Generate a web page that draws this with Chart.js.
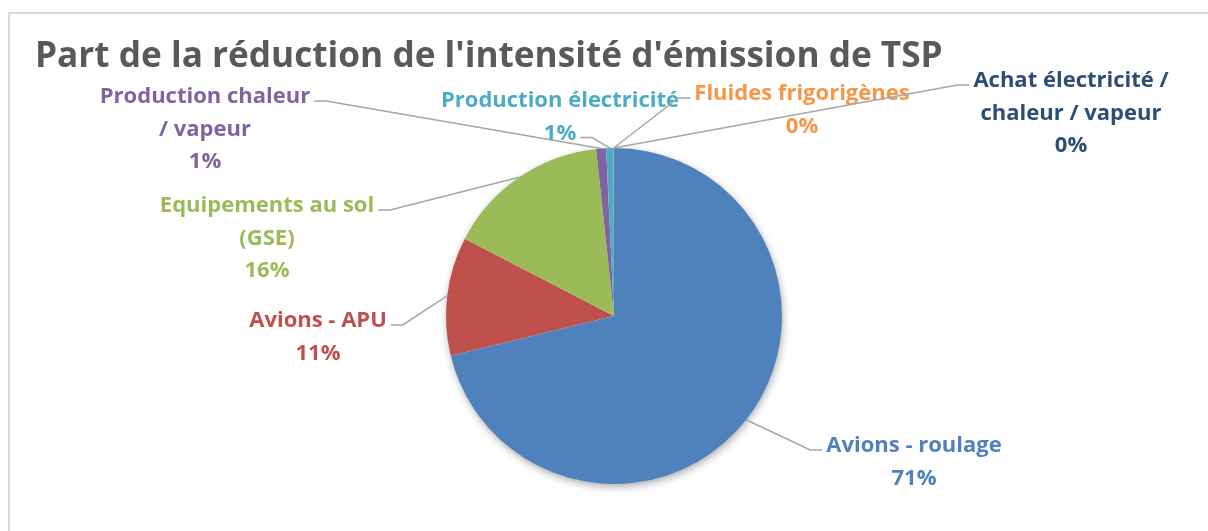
<!DOCTYPE html>
<html>
<head>
<meta charset="utf-8">
<script src="https://cdn.jsdelivr.net/npm/chart.js@4/dist/chart.umd.min.js"></script>
<style>
  html, body { margin: 0; padding: 0; background: #fff; }
  canvas { display: block; }
</style>
</head>
<body>
<canvas id="chart" width="1208" height="531"></canvas>
<script>
const chartTitle = "Part de la réduction de l'intensité d'émission de TSP";
const categories = [
  ['Avions - roulage'],
  ['Avions - APU'],
  ['Equipements au sol', '(GSE)'],
  ['Production chaleur', '/ vapeur'],
  ['Production électricité'],
  ['Fluides frigorigènes'],
  ['Achat électricité /', 'chaleur / vapeur'],
];
const values = [71.2, 11.4, 15.7, 0.95, 0.7, 0.03, 0.02];
const sliceColors = ['#4f81bd', '#c0504d', '#9bbb59', '#8064a2', '#4bacc6', '#f79646', '#2c4d75'];

// where each data label sits (centre x, first baseline) and which side the leader leaves from
const labelPos = [
  { x: 914, y: 452, side: 'left', line: 0 },
  { x: 318, y: 327, side: 'right', line: 0 },
  { x: 267, y: 212, side: 'right', line: 0 },
  { x: 205, y: 103, side: 'right', line: 0 },
  { x: 560, y: 107, side: 'right', line: 1 },
  { x: 802, y: 100, side: 'left', line: 0 },
  { x: 1071, y: 87, side: 'left', line: 0 },
];
const FONT = '"Open Sans", Lato, sans-serif';
const LINE_H = 32.5;

const total = values.reduce((a, b) => a + b, 0);
const pct = (v) => Math.round((v / total) * 100) + '%';

const decor = {
  id: 'decor',
  beforeDraw(chart) {
    const ctx = chart.ctx;
    ctx.save();
    ctx.fillStyle = '#ffffff';
    ctx.fillRect(0, 0, chart.width, chart.height);
    ctx.strokeStyle = '#d9d9d9';
    ctx.lineWidth = 2;
    ctx.strokeRect(9, 13, chart.width + 20, chart.height + 20);
    ctx.fillStyle = '#595959';
    ctx.font = 'bold 35.2px ' + FONT;
    ctx.textBaseline = 'alphabetic';
    ctx.textAlign = 'left';
    ctx.fillText(chartTitle, 35, 67);
    ctx.restore();
  },
  beforeDatasetsDraw(chart) {
    const arc = chart.getDatasetMeta(0).data[0];
    if (!arc) return;
    const { x, y, outerRadius } = arc.getProps(['x', 'y', 'outerRadius'], true);
    const ctx = chart.ctx;
    ctx.save();
    ctx.shadowColor = 'rgba(0,0,0,0.35)';
    ctx.shadowBlur = 9;
    ctx.shadowOffsetX = 1;
    ctx.shadowOffsetY = 3;
    ctx.fillStyle = '#ffffff';
    ctx.beginPath();
    ctx.arc(x, y, outerRadius - 0.5, 0, Math.PI * 2);
    ctx.fill();
    ctx.restore();
  },
  afterDatasetsDraw(chart) {
    const ctx = chart.ctx;
    const meta = chart.getDatasetMeta(0);
    ctx.save();
    ctx.font = 'bold 22px ' + FONT;
    ctx.textAlign = 'center';
    ctx.textBaseline = 'alphabetic';
    meta.data.forEach((arc, i) => {
      const p = arc.getProps(['x', 'y', 'startAngle', 'endAngle', 'outerRadius'], true);
      const mid = (p.startAngle + p.endAngle) / 2;
      const ex = p.x + Math.cos(mid) * p.outerRadius;
      const ey = p.y + Math.sin(mid) * p.outerRadius;
      const pos = labelPos[i];
      const lines = [...categories[i], pct(values[i])];
      const attach = lines[pos.line];
      const w = ctx.measureText(attach).width;
      const sy = pos.y + pos.line * LINE_H - 2;
      const sx = pos.side === 'left' ? pos.x - w / 2 - 4 : pos.x + w / 2 + 4;
      const kx = pos.side === 'left' ? sx - 12 : sx + 12;
      ctx.strokeStyle = '#a6a6a6';
      ctx.lineWidth = 1.5;
      ctx.beginPath();
      ctx.moveTo(sx, sy);
      ctx.lineTo(kx, sy);
      ctx.lineTo(ex, ey);
      ctx.stroke();
      ctx.fillStyle = sliceColors[i];
      lines.forEach((t, k) => ctx.fillText(t, pos.x, pos.y + k * LINE_H));
    });
    ctx.restore();
  },
};

function build() {
  new Chart(document.getElementById('chart'), {
    type: 'pie',
    data: {
      labels: categories,
      datasets: [{
        data: values,
        backgroundColor: sliceColors,
        borderWidth: 0,
      }],
    },
    options: {
      responsive: false,
      animation: false,
      layout: { padding: { top: 148, bottom: 47, left: 314, right: 294 } },
      plugins: {
        legend: { display: false },
        tooltip: { enabled: false },
        title: { display: false },
      },
    },
    plugins: [decor],
  });
}

Promise.all([
  document.fonts.load('bold 35px "Open Sans"'),
  document.fonts.load('bold 22px "Open Sans"'),
]).then(build, build);
</script>
</body>
</html>
